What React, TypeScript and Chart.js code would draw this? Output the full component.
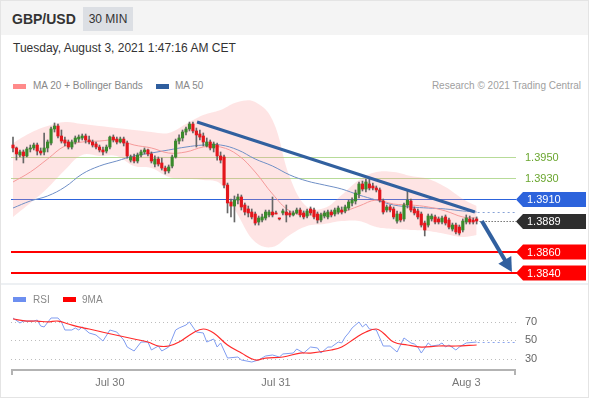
import React, { useEffect, useRef } from "react";
import { Chart, registerables } from "chart.js";
Chart.register(...registerables);

// ---------- DATA ----------
const OPEN = [1.39614,1.39586,1.39519,1.39548,1.39510,1.39576,1.39586,1.39614,1.39557,1.39548,1.39586,1.39633,1.39767,1.39795,1.39700,1.39662,1.39643,1.39595,1.39643,1.39671,1.39681,1.39700,1.39662,1.39643,1.39624,1.39595,1.39567,1.39557,1.39595,1.39690,1.39671,1.39643,1.39671,1.39633,1.39471,1.39500,1.39462,1.39519,1.39548,1.39567,1.39529,1.39433,1.39481,1.39443,1.39395,1.39367,1.39414,1.39500,1.39652,1.39681,1.39738,1.39767,1.39814,1.39748,1.39719,1.39700,1.39605,1.39643,1.39586,1.39614,1.39510,1.39500,1.39233,1.39071,1.39033,1.39090,1.39119,1.39043,1.39005,1.38976,1.38957,1.38881,1.38900,1.38919,1.38948,1.38976,1.38967,1.38919,1.38967,1.38976,1.38967,1.38948,1.38967,1.38995,1.38967,1.38938,1.39005,1.38995,1.38957,1.38900,1.38938,1.38929,1.38976,1.38957,1.38976,1.38995,1.38986,1.39014,1.39062,1.39081,1.39148,1.39243,1.39195,1.39243,1.39224,1.39205,1.39186,1.39081,1.38995,1.39024,1.39005,1.38890,1.38957,1.38910,1.39043,1.39081,1.39005,1.38986,1.38957,1.38871,1.38852,1.38910,1.38929,1.38910,1.38881,1.38929,1.38900,1.38814,1.38852,1.38833,1.38805,1.38881,1.38910,1.38900,1.38910];
const HIGH = [1.39690,1.39595,1.39567,1.39567,1.39595,1.39614,1.39633,1.39633,1.39586,1.39729,1.39662,1.39786,1.39824,1.39814,1.39757,1.39690,1.39662,1.39662,1.39700,1.39710,1.39719,1.39719,1.39700,1.39662,1.39643,1.39614,1.39595,1.39614,1.39700,1.39710,1.39690,1.39690,1.39690,1.39652,1.39519,1.39529,1.39538,1.39567,1.39586,1.39576,1.39548,1.39510,1.39500,1.39490,1.39414,1.39424,1.39519,1.39671,1.39710,1.39757,1.39786,1.39833,1.39833,1.39776,1.39757,1.39729,1.39681,1.39662,1.39643,1.39633,1.39548,1.39519,1.39252,1.39100,1.39129,1.39148,1.39138,1.39062,1.39033,1.39005,1.38976,1.38938,1.38957,1.38995,1.38995,1.39119,1.38986,1.38919,1.39005,1.39043,1.38986,1.38986,1.39014,1.39014,1.38986,1.39005,1.39024,1.39014,1.38976,1.38967,1.38986,1.38995,1.38995,1.39014,1.39033,1.39024,1.39043,1.39090,1.39110,1.39186,1.39262,1.39271,1.39290,1.39300,1.39252,1.39224,1.39205,1.39100,1.39043,1.39043,1.39024,1.38986,1.38976,1.39062,1.39186,1.39100,1.39024,1.39005,1.38976,1.38890,1.38957,1.38957,1.38948,1.38929,1.38938,1.38948,1.38919,1.38871,1.38871,1.38852,1.38910,1.38948,1.38938,1.38919,1.38929];
const LOW = [1.39548,1.39471,1.39500,1.39443,1.39500,1.39548,1.39567,1.39519,1.39519,1.39519,1.39548,1.39614,1.39738,1.39681,1.39633,1.39605,1.39576,1.39576,1.39624,1.39643,1.39662,1.39633,1.39624,1.39595,1.39576,1.39548,1.39519,1.39538,1.39576,1.39643,1.39624,1.39633,1.39605,1.39490,1.39452,1.39443,1.39443,1.39500,1.39529,1.39510,1.39443,1.39405,1.39414,1.39376,1.39338,1.39348,1.39395,1.39490,1.39624,1.39652,1.39710,1.39748,1.39729,1.39595,1.39662,1.39605,1.39595,1.39567,1.39548,1.39471,1.39443,1.39205,1.38967,1.38929,1.38881,1.39052,1.38995,1.38948,1.38929,1.38910,1.38852,1.38852,1.38881,1.38900,1.38929,1.38929,1.38957,1.38900,1.38948,1.38881,1.38929,1.38938,1.38957,1.38929,1.38910,1.38919,1.38948,1.38910,1.38871,1.38881,1.38919,1.38910,1.38929,1.38938,1.38957,1.38957,1.38967,1.38995,1.39033,1.39052,1.39110,1.39176,1.39167,1.39186,1.39186,1.39167,1.39071,1.38957,1.38976,1.38976,1.38910,1.38871,1.38881,1.38890,1.39014,1.38976,1.38948,1.38910,1.38833,1.38748,1.38833,1.38890,1.38862,1.38862,1.38862,1.38852,1.38814,1.38795,1.38767,1.38757,1.38786,1.38862,1.38862,1.38862,1.38862];
const CLOSE = [1.39586,1.39529,1.39548,1.39510,1.39576,1.39586,1.39614,1.39557,1.39538,1.39586,1.39643,1.39767,1.39795,1.39700,1.39652,1.39633,1.39595,1.39643,1.39681,1.39690,1.39700,1.39662,1.39643,1.39614,1.39595,1.39567,1.39548,1.39595,1.39690,1.39662,1.39643,1.39671,1.39633,1.39510,1.39500,1.39462,1.39519,1.39548,1.39567,1.39529,1.39462,1.39481,1.39433,1.39395,1.39367,1.39405,1.39500,1.39652,1.39681,1.39738,1.39767,1.39814,1.39748,1.39710,1.39690,1.39643,1.39643,1.39586,1.39624,1.39510,1.39471,1.39233,1.39062,1.39033,1.39090,1.39119,1.39024,1.38976,1.38967,1.38929,1.38871,1.38919,1.38929,1.38976,1.38976,1.38948,1.38957,1.38910,1.38986,1.38948,1.38948,1.38967,1.38995,1.38948,1.38929,1.38986,1.38967,1.38929,1.38900,1.38948,1.38967,1.38976,1.38948,1.38995,1.39014,1.38976,1.39024,1.39071,1.39090,1.39157,1.39243,1.39195,1.39262,1.39205,1.39205,1.39186,1.39090,1.38976,1.39024,1.38995,1.38929,1.38957,1.38900,1.39043,1.39090,1.38995,1.38967,1.38929,1.38852,1.38805,1.38938,1.38938,1.38881,1.38881,1.38919,1.38871,1.38833,1.38852,1.38786,1.38776,1.38890,1.38919,1.38881,1.38881,1.38890];

const BAND_IDX = [0,5,10,15,20,25,30,35,40,45,50,55,60,65,70,75,80,85,90,95,100,105,110,115,120,125,130,134];
const BAND_UPPER = [1.39633,1.39729,1.39795,1.39833,1.39814,1.39795,1.39776,1.39757,1.39738,1.39729,1.39814,1.39900,1.39948,1.40024,1.40024,1.39852,1.39310,1.39024,1.39014,1.39138,1.39281,1.39357,1.39357,1.39319,1.39290,1.39214,1.39100,1.39033];
const BAND_LOWER = [1.38929,1.39062,1.39205,1.39376,1.39519,1.39510,1.39510,1.39414,1.39395,1.39310,1.39290,1.39281,1.39243,1.38948,1.38690,1.38643,1.38757,1.38843,1.38862,1.38890,1.38890,1.38833,1.38814,1.38805,1.38795,1.38767,1.38738,1.38757];
const MA20 = [1.39262,1.39357,1.39481,1.39605,1.39643,1.39652,1.39662,1.39614,1.39586,1.39538,1.39548,1.39595,1.39595,1.39519,1.39357,1.39148,1.38986,1.38948,1.38957,1.38976,1.39033,1.39090,1.39052,1.39043,1.39024,1.38986,1.38929,1.38919];
const MA50 = [1.39014,1.39081,1.39129,1.39214,1.39338,1.39414,1.39462,1.39510,1.39538,1.39567,1.39595,1.39614,1.39614,1.39567,1.39481,1.39414,1.39329,1.39271,1.39233,1.39195,1.39138,1.39090,1.39043,1.39024,1.39014,1.39005,1.38986,1.38976];

const TREND_IDX = [53.2, 133.5];
const TREND_PRICE = [1.39833, 1.38976];
const ARROW_IDX = [135.5, 144.2];
const ARROW_PRICE = [1.3889, 1.38405];

const LEVELS = [1.395, 1.393, 1.391, 1.3889, 1.386, 1.384];
const LEVEL_KIND = ["resistance", "resistance", "pivot", "last", "support", "support"];
const LEVEL_TEXT = ["1.3950", "1.3930", "1.3910", "1.3889", "1.3860", "1.3840"];

const RSI_IDX = [0,2,3,6,7,8,9,11,13,14,15,17,18,19,20,22,24,26,28,30,32,33,35,37,39,40,42,43,45,47,48,50,51,53,55,56,58,59,60,62,65,66,69,71,73,75,77,78,81,82,84,86,88,89,91,92,94,95,96,97,98,100,101,102,103,105,106,107,109,111,113,115,116,117,118,120,121,123,124,125,126,128,129,131,134];
const RSI_VAL = [73.8,68.4,70.5,70.5,71.6,65.1,64.1,73.8,73.8,69.5,60.8,60.8,63,60.8,64.1,57.6,55.4,48.9,60.8,58.6,50,42.4,38.1,47.8,47.8,39.2,43.5,38.1,42.4,60.8,63,66.2,69.5,58.6,57.6,47.8,51.1,42.4,46.8,30.5,31.6,28.4,26.2,28.4,32.7,33.8,31.6,34.9,35.9,40.3,35.9,42.4,41.4,35.9,42.4,42.4,47.8,46.8,53.2,57.6,63,69.5,64.1,67.3,61.9,60.8,52.2,43.5,43.5,37,52.2,46.8,45.7,42.4,35.9,46.8,43.5,44.6,46.8,42.4,44.6,39.2,42.4,46.8,47.8];
const MA9_IDX = [0,4,7,10,13,16,19,22,27,31,35,39,42,45,48,52,55,58,62,66,70,73,78,83,86,92,95,99,102,105,107,110,114,118,123,128,134];
const MA9_VAL = [72.7,70.5,70.5,69.5,70.5,67.3,64.1,61.9,57.6,54.3,51.1,47.8,43.5,43.5,47.8,57.6,61.9,57.6,44.6,35.9,28.4,30.5,31.6,35.9,35.9,39.2,42.4,52.2,58.6,61.9,57.6,47.8,44.6,42.4,43.5,43.5,44.6];
const RSI_TICKS = [70, 50, 30];
const X_TICK_IDX = [28, 76, 131];
const X_TICK_LABELS = ["Jul 30", "Jul 31", "Aug 3"];

// ---------- LAYOUT ----------
const FONT = '"Liberation Sans", Arial, Helvetica, sans-serif';
const W = 590;
const X0 = 13;
const DX = 3.46;
const PLOT_L = 11;
const PLOT_R = 516;
const P_TOP = 95;
const P_H = 190;
const REF_PRICE = 1.395;
const REF_Y = 157;
const PX_PER_PRICE = 10500;
const R_TOP = 290;
const R_H = 105;
const R_Y50 = 340;
const R_PX_PER_UNIT = 0.925;
const AXIS_Y = 370;
const LABEL_Y = 383;

const X_MIN = (0 - X0) / DX;
const X_MAX = (W - X0) / DX;

const GREEN_LINE = "#b7db98";
const GREEN_TEXT = "#6aa62f";
const BLUE = "#2c63dc";
const RED = "#ff0000";
const DARK = "#2e2e2e";
const TREND_COLOR = "#31609f";

function hline(ctx: any, x1: number, x2: number, y: number) {
  ctx.beginPath();
  ctx.moveTo(x1, y);
  ctx.lineTo(x2, y);
  ctx.stroke();
}

function tag(ctx: any, y: number, color: string, text: string) {
  const tip = PLOT_R;
  const body = PLOT_R + 7;
  const right = 586;
  const h = 15;
  ctx.fillStyle = color;
  ctx.beginPath();
  ctx.moveTo(tip, y);
  ctx.lineTo(body, y - h / 2);
  ctx.lineTo(right, y - h / 2);
  ctx.lineTo(right, y + h / 2);
  ctx.lineTo(body, y + h / 2);
  ctx.closePath();
  ctx.fill();
  ctx.fillStyle = "#ffffff";
  ctx.fillText(text, body + 4, y + 0.5);
}

const priceOverlay = {
  id: "priceOverlay",
  beforeDatasetsDraw(chart: any) {
    const { ctx } = chart;
    const ys = chart.scales.y;
    ctx.save();
    LEVELS.forEach((v, k) => {
      const kind = LEVEL_KIND[k];
      const py = ys.getPixelForValue(v);
      ctx.setLineDash([]);
      if (kind === "resistance") {
        ctx.strokeStyle = GREEN_LINE;
        ctx.lineWidth = 1;
        hline(ctx, PLOT_L, PLOT_R, Math.round(py) + 0.5);
      } else if (kind === "pivot") {
        ctx.strokeStyle = BLUE;
        ctx.lineWidth = 1;
        hline(ctx, PLOT_L, PLOT_R, Math.round(py) + 0.5);
      } else if (kind === "support") {
        ctx.strokeStyle = RED;
        ctx.lineWidth = 2;
        hline(ctx, PLOT_L, PLOT_R + 4, Math.round(py));
      }
    });
    ctx.restore();
  },
  afterDatasetsDraw(chart: any) {
    const { ctx } = chart;
    const xs = chart.scales.x;
    const ys = chart.scales.y;
    ctx.save();
    const lastX = xs.getPixelForValue(CLOSE.length - 1) + 3;
    ctx.setLineDash([1, 2]);
    ctx.lineWidth = 1;
    ctx.strokeStyle = DARK;
    const lastK = LEVEL_KIND.indexOf("last");
    hline(ctx, lastX, PLOT_R, Math.round(ys.getPixelForValue(LEVELS[lastK])) + 0.5);
    ctx.strokeStyle = "#87a2d6";
    ctx.setLineDash([2, 3]);
    const mk = MA50.length - 1;
    hline(ctx, xs.getPixelForValue(BAND_IDX[mk]) + 1, PLOT_R, Math.round(ys.getPixelForValue(MA50[mk])) + 0.5);
    ctx.setLineDash([]);

    ctx.font = "11px " + FONT;
    ctx.textBaseline = "middle";
    ctx.textAlign = "left";
    LEVELS.forEach((v, k) => {
      const kind = LEVEL_KIND[k];
      const py = Math.round(ys.getPixelForValue(v));
      if (kind === "resistance") {
        ctx.fillStyle = GREEN_TEXT;
        ctx.fillText(LEVEL_TEXT[k], 525, py + 0.5);
      } else if (kind === "pivot") {
        tag(ctx, py + 0.5, BLUE, LEVEL_TEXT[k]);
      } else if (kind === "last") {
        tag(ctx, py + 0.5, DARK, LEVEL_TEXT[k]);
      } else {
        tag(ctx, py, RED, LEVEL_TEXT[k]);
      }
    });

    const ax1 = xs.getPixelForValue(ARROW_IDX[0]);
    const ay1 = ys.getPixelForValue(ARROW_PRICE[0]);
    const ax2 = xs.getPixelForValue(ARROW_IDX[1]);
    const ay2 = ys.getPixelForValue(ARROW_PRICE[1]);
    const ang = Math.atan2(ay2 - ay1, ax2 - ax1);
    const headLen = 14;
    const headW = 7.5;
    const bx = ax2 - headLen * Math.cos(ang);
    const by = ay2 - headLen * Math.sin(ang);
    ctx.strokeStyle = TREND_COLOR;
    ctx.fillStyle = TREND_COLOR;
    ctx.lineWidth = 4;
    ctx.beginPath();
    ctx.moveTo(ax1, ay1);
    ctx.lineTo(bx + Math.cos(ang), by + Math.sin(ang));
    ctx.stroke();
    ctx.beginPath();
    ctx.moveTo(ax2, ay2);
    ctx.lineTo(bx + headW * Math.sin(ang), by - headW * Math.cos(ang));
    ctx.lineTo(bx - headW * Math.sin(ang), by + headW * Math.cos(ang));
    ctx.closePath();
    ctx.fill();
    ctx.restore();
  },
};

const rsiOverlay = {
  id: "rsiOverlay",
  beforeDatasetsDraw(chart: any) {
    const { ctx } = chart;
    const xs = chart.scales.x;
    const ys = chart.scales.y;
    ctx.save();
    ctx.strokeStyle = "#bdbdbd";
    ctx.lineWidth = 1;
    ctx.setLineDash([1, 3]);
    RSI_TICKS.forEach((t) => {
      hline(ctx, PLOT_L, PLOT_R, Math.round(ys.getPixelForValue(t)) + 0.5);
    });
    ctx.setLineDash([]);
    ctx.font = "11px " + FONT;
    ctx.fillStyle = "#666666";
    ctx.textBaseline = "middle";
    ctx.textAlign = "left";
    RSI_TICKS.forEach((t) => ctx.fillText(String(t), 525, ys.getPixelForValue(t)));
    const ay = AXIS_Y - R_TOP;
    ctx.strokeStyle = "#b3b3b3";
    ctx.lineWidth = 2;
    hline(ctx, PLOT_L, PLOT_R, ay);
    ctx.beginPath();
    ctx.moveTo(PLOT_L + 1, ay);
    ctx.lineTo(PLOT_L + 1, ay + 5);
    ctx.moveTo(PLOT_R - 1, ay);
    ctx.lineTo(PLOT_R - 1, ay + 5);
    ctx.stroke();
    ctx.fillStyle = "#777777";
    ctx.textAlign = "center";
    X_TICK_IDX.forEach((t, k) => ctx.fillText(X_TICK_LABELS[k], xs.getPixelForValue(t), LABEL_Y - R_TOP));
    ctx.restore();
  },
  afterDatasetsDraw(chart: any) {
    const { ctx } = chart;
    const xs = chart.scales.x;
    const ys = chart.scales.y;
    const k = RSI_VAL.length - 1;
    ctx.save();
    ctx.strokeStyle = "#8aa4ee";
    ctx.lineWidth = 1;
    ctx.setLineDash([2, 3]);
    hline(ctx, xs.getPixelForValue(RSI_IDX[k]) + 1, PLOT_R, Math.round(ys.getPixelForValue(RSI_VAL[k])) + 0.5);
    ctx.restore();
  },
};

const pts = (xs: number[], ys: number[]) => xs.map((x, k) => ({ x, y: ys[k] }));

function priceConfig(): any {
  const idx = CLOSE.map((_, i) => i);
  const yMax = REF_PRICE + (REF_Y - P_TOP) / PX_PER_PRICE;
  const yMin = REF_PRICE - (P_TOP + P_H - REF_Y) / PX_PER_PRICE;
  return {
    type: "bar",
    data: {
      datasets: [
        { type: "line", data: pts(BAND_IDX, BAND_UPPER), borderColor: "rgba(0,0,0,0)", borderWidth: 0, pointRadius: 0, fill: "+1", backgroundColor: "rgba(250,150,150,0.26)", tension: 0.4, order: 10 },
        { type: "line", data: pts(BAND_IDX, BAND_LOWER), borderColor: "rgba(0,0,0,0)", borderWidth: 0, pointRadius: 0, fill: false, tension: 0.4, order: 10 },
        { type: "line", data: pts(BAND_IDX, MA50), borderColor: "#6f8fc6", borderWidth: 1, pointRadius: 0, fill: false, tension: 0.4, order: 8 },
        { type: "line", data: pts(BAND_IDX, MA20), borderColor: "#f59a9a", borderWidth: 1, pointRadius: 0, fill: false, tension: 0.4, order: 7 },
        { type: "bar", data: idx.map((i) => ({ x: i, y: [LOW[i], HIGH[i]] })), backgroundColor: "#666666", barThickness: 1, grouped: false, order: 3 },
        { type: "bar", data: idx.map((i) => ({ x: i, y: [OPEN[i], CLOSE[i]] })), backgroundColor: idx.map((i) => (CLOSE[i] >= OPEN[i] ? "#3a8a2c" : "#e3161c")), barThickness: 2.5, minBarLength: 1, grouped: false, order: 2 },
        { type: "line", data: pts(TREND_IDX, TREND_PRICE), borderColor: TREND_COLOR, borderWidth: 3, pointRadius: 0, fill: false, order: 1 },
      ],
    },
    options: {
      responsive: false,
      maintainAspectRatio: false,
      animation: false,
      events: [],
      layout: { padding: 0, autoPadding: false },
      plugins: { legend: { display: false }, tooltip: { enabled: false } },
      scales: {
        x: { type: "linear", min: X_MIN, max: X_MAX, display: false, offset: false },
        y: { type: "linear", min: yMin, max: yMax, display: false },
      },
    },
    plugins: [priceOverlay],
  };
}

function rsiConfig(): any {
  const yMax = 50 + (R_Y50 - R_TOP) / R_PX_PER_UNIT;
  const yMin = 50 - (R_TOP + R_H - R_Y50) / R_PX_PER_UNIT;
  return {
    type: "line",
    data: {
      datasets: [
        { data: pts(RSI_IDX, RSI_VAL), borderColor: "#809df0", borderWidth: 1, pointRadius: 0, fill: false, tension: 0, order: 2 },
        { data: pts(MA9_IDX, MA9_VAL), borderColor: "#ff2b2b", borderWidth: 1.2, pointRadius: 0, fill: false, tension: 0.4, order: 1 },
      ],
    },
    options: {
      responsive: false,
      maintainAspectRatio: false,
      animation: false,
      events: [],
      layout: { padding: 0, autoPadding: false },
      plugins: { legend: { display: false }, tooltip: { enabled: false } },
      scales: {
        x: { type: "linear", min: X_MIN, max: X_MAX, display: false },
        y: { type: "linear", min: yMin, max: yMax, display: false },
      },
    },
    plugins: [rsiOverlay],
  };
}

const abs = (o: any): any => ({ position: "absolute", whiteSpace: "nowrap", ...o });

export default function App() {
  const priceRef = useRef<HTMLCanvasElement>(null);
  const rsiRef = useRef<HTMLCanvasElement>(null);
  useEffect(() => {
    const pc = new Chart(priceRef.current as HTMLCanvasElement, priceConfig());
    const rc = new Chart(rsiRef.current as HTMLCanvasElement, rsiConfig());
    return () => {
      pc.destroy();
      rc.destroy();
    };
  }, []);
  return (
    <div style={{ position: "relative", width: 590, height: 400, overflow: "hidden", background: "#fff", fontFamily: FONT }}>
      <style>{"html,body{margin:0;padding:0;background:#fff;}"}</style>
      <div style={abs({ left: 0, top: 0, width: 589, height: 398, border: "1px solid #e4e4e4", boxSizing: "border-box" })} />
      <div style={abs({ left: 1, top: 1, width: 587, height: 34, background: "#f4f4f4" })} />
      <div style={abs({ left: 12, top: 11, fontSize: 14, lineHeight: "16px", fontWeight: "bold", color: "#333" })}>GBP/USD</div>
      <div style={abs({ left: 83, top: 7, width: 50, height: 24, background: "#dcdfe4", fontSize: 12, lineHeight: "24px", textAlign: "center", color: "#333" })}>30 MIN</div>
      <div style={abs({ left: 13, top: 41, fontSize: 12, lineHeight: "14px", color: "#333" })}>Tuesday, August 3, 2021 1:47:16 AM CET</div>

      <div style={abs({ left: 13, top: 84, width: 13, height: 5, background: "#ff8a8a" })} />
      <div style={abs({ left: 33, top: 80, fontSize: 10, lineHeight: "12px", color: "#888" })}>MA 20 + Bollinger Bands</div>
      <div style={abs({ left: 156, top: 84, width: 13, height: 5, background: "#2f5e9e" })} />
      <div style={abs({ left: 175, top: 80, fontSize: 10, lineHeight: "12px", color: "#888" })}>MA 50</div>
      <div style={abs({ right: 9, top: 80, fontSize: 10, lineHeight: "12px", color: "#a0a0a0" })}>Research © 2021 Trading Central</div>

      <canvas ref={priceRef} width={590} height={P_H} style={{ position: "absolute", left: 0, top: P_TOP, width: 590, height: P_H }} />

      <div style={abs({ left: 1, top: 283, width: 587, height: 2, background: "#edf0f3" })} />

      <div style={abs({ left: 13, top: 297, width: 13, height: 5, background: "#6d8ff0" })} />
      <div style={abs({ left: 33, top: 294, fontSize: 10, lineHeight: "12px", color: "#888" })}>RSI</div>
      <div style={abs({ left: 63, top: 297, width: 13, height: 5, background: "#ff0000" })} />
      <div style={abs({ left: 82, top: 294, fontSize: 10, lineHeight: "12px", color: "#888" })}>9MA</div>

      <canvas ref={rsiRef} width={590} height={R_H} style={{ position: "absolute", left: 0, top: R_TOP, width: 590, height: R_H }} />
    </div>
  );
}
